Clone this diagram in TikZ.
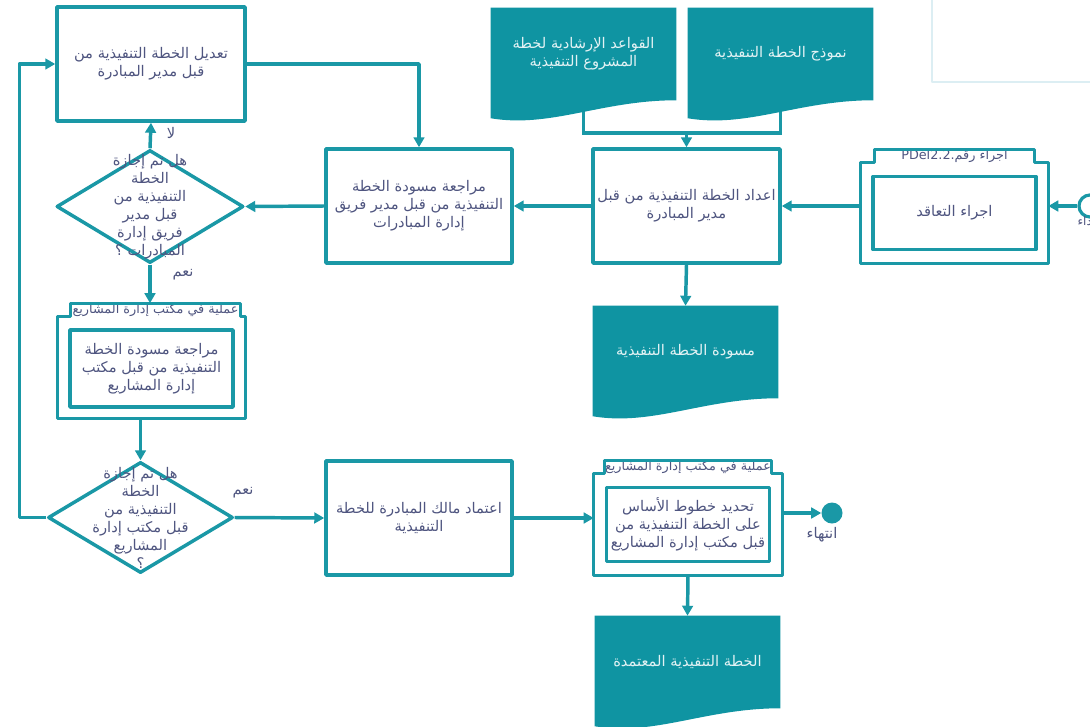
\documentclass[tikz,border=0pt]{standalone}
\usepackage{fontspec}
\usetikzlibrary{arrows.meta,backgrounds,shapes.geometric}
\TeXXeTstate=1
\newfontfamily\arabicfont[Script=Arabic]{DejaVu Sans}
\definecolor{flowteal}{HTML}{1A98A6}
\definecolor{docteal}{HTML}{0F94A2}
\definecolor{flowtext}{HTML}{4F5580}
\definecolor{framelight}{HTML}{DCEEF3}
\newcommand{\rl}[1]{\beginR#1\endR}

\begin{document}
\begin{tikzpicture}[x=0.75pt, y=-0.75pt, line join=round,
  every node/.style={font=\arabicfont\fontsize{11}{13.5}\selectfont, text=flowtext, align=center, inner sep=1pt},
  boxsize/.style 2 args={minimum width=#1*0.75pt, minimum height=#2*0.75pt},
  box/.style={draw=flowteal, line width=2.6pt},
  decision/.style={diamond, draw=flowteal, line width=2.6pt, inner sep=0pt},
  doc/.style={text=white!88!docteal},
  tab/.style={inner sep=0pt, font=\arabicfont\fontsize{9.6}{10}\selectfont, minimum height=13*0.75pt},
  outerline/.style={draw=flowteal, line width=2pt},
  line/.style={draw=flowteal, line width=2.6pt},
  flow/.style={line, -{Triangle[length=7.5pt,width=8pt]}}]

  % page and faint frame top right
  \useasboundingbox (0,0) rectangle (1090,726);
  \draw[framelight, line width=1.5pt] (932,-10) rectangle (1110,82);

  % documents
  \node[doc, boxsize={185}{92}] (h1) at (583.5,54) {\rl{القواعد الإرشادية لخطة}\\\rl{المشروع التنفيذية}};
  \node[doc, boxsize={185}{92}] (h2) at (780.5,54) {\rl{نموذج الخطة التنفيذية}};
  \node[doc, boxsize={185}{92}] (j) at (685.5,352) {\rl{مسودة الخطة التنفيذية}};
  \node[doc, boxsize={185}{92}] (g) at (687.5,662) {\rl{الخطة التنفيذية المعتمدة}};

  % processes
  \node[box, boxsize={188}{114}] (a) at (151,64) {\rl{تعديل الخطة التنفيذية من}\\\rl{قبل مدير المبادرة}};
  \node[box, boxsize={186}{114}] (b) at (419,206) {\rl{مراجعة مسودة الخطة}\\\rl{التنفيذية من قبل مدير فريق}\\\rl{إدارة المبادرات}};
  \node[box, boxsize={187}{114}] (i) at (686.5,206) {\rl{اعداد الخطة التنفيذية من قبل}\\\rl{مدير المبادرة}};
  \node[box, boxsize={186}{114}] (e) at (419,518) {\rl{اعتماد مالك المبادرة للخطة}\\\rl{التنفيذية}};

  % decisions
  \node[decision, boxsize={187}{113}] (d1) at (150,206.5) {};
  \node (d1-text) at (d1) {\rl{هل تم إجازة}\\\rl{الخطة}\\\rl{التنفيذية من}\\\rl{قبل مدير}\\\rl{فريق إدارة}\\\rl{المبادرات ؟}};
  \node[decision, boxsize={185}{111}] (d2) at (140.5,517.5) {};
  \node (d2-text) at (d2) {\rl{هل تم إجازة}\\\rl{الخطة}\\\rl{التنفيذية من}\\\rl{قبل مكتب إدارة}\\\rl{المشاريع}\\\rl{؟}};

  % sub-processes (outer frame, tab, inner box)
  \node[boxsize={187}{101}] (c) at (151.5,367.5) {};
  \node[tab, anchor=south, minimum width=169*0.75pt] (c-tab) at ([xshift=3pt]c.north) {\rl{عملية في مكتب إدارة المشاريع}};
  \node[box, boxsize={163}{77}] (c-in) at ([yshift=-0.75pt]c) {\rl{مراجعة مسودة الخطة}\\\rl{التنفيذية من قبل مكتب}\\\rl{إدارة المشاريع}};

  \node[boxsize={188}{101}] (f) at (688,524.5) {};
  \node[tab, anchor=south, minimum width=161*0.75pt] (f-tab) at (f.north) {\rl{عملية في مكتب إدارة المشاريع}};
  \node[box, boxsize={163}{74}] (f-in) at (f) {\rl{تحديد خطوط الأساس}\\\rl{على الخطة التنفيذية من}\\\rl{قبل مكتب إدارة المشاريع}};

  \node[boxsize={187}{100}] (k) at (954.5,213) {};
  \node[tab, anchor=south, minimum width=159*0.75pt] (k-tab) at (k.north) {\rl{اجراء رقم.\beginL PDel2.2\endL}};
  \node[box, boxsize={163}{73}] (k-in) at (k) {\rl{اجراء التعاقد}};

  \foreach \s in {c,f,k}
    \draw[outerline] (\s.south west) -- (\s.north west) -- (\s-tab.south west) -- (\s-tab.north west)
      -- (\s-tab.north east) -- (\s-tab.south east) -- (\s.north east) -- (\s.south east) -- cycle;

  % start and end
  \node[circle, draw=flowteal, fill=white, line width=2.4pt, minimum size=22*0.75pt, inner sep=0pt] (start) at (1090,206) {};
  \node[anchor=west, font=\arabicfont\fontsize{9}{10}\selectfont] (start-label) at (1076,222) {\rl{ابتداء}};
  \node[circle, fill=flowteal, minimum size=21*0.75pt, inner sep=0pt] (end) at (832,513) {};
  \node (end-label) at (822,535) {\rl{انتهاء}};

  % labels
  \node (no1) at (171,133) {\rl{لا}};
  \node (yes1) at (183,275) {\rl{نعم}};
  \node (yes2) at (243,493) {\rl{نعم}};

  % document fills, behind the text
  \coordinate (join) at (686.5,133);
  \begin{scope}[on background layer]
    \fill[white] (0,0) rectangle (1090,726);
    \draw[line] (h1.south) |- (join) -| (h2.south);
    \foreach \d in {h1,h2,j,g}
      \fill[docteal] (\d.north west) -- (\d.north east) -- (\d.south east)
        .. controls +(-75,0) and +(60,10) .. ([yshift=-13.5pt]\d.south west) -- cycle;
  \end{scope}

  % connectors
  \draw[flow] (join) -- (i.north);
  \draw[flow] (start) -- (start -| k.east);
  \draw[flow] (k.west |- i.east) -- (i.east);
  \draw[flow] (i.east -| i.west) -- (b.east);
  \draw[flow] (i.south) -- (j.north);
  \draw[flow] (b.west) -- (d1.east);
  \draw[flow] (d1.north) -- (a.south);
  \draw[flow] (a.east) -| (b.north);
  \draw[flow] (d1.south) -- (d1.south |- c-tab.north);
  \draw[flow] (d2.north |- c.south) -- (d2.north);
  \draw[flow] (d2.west) -- ++(-27,0) |- (a.west);
  \draw[flow] (d2.east) -- (e.west);
  \draw[flow] (e.east) -- (e.east -| f.west);
  \draw[flow] (f.east |- end) -- (end);
  \draw[flow] (f.south) -- (g.north);

\end{tikzpicture}
\end{document}
